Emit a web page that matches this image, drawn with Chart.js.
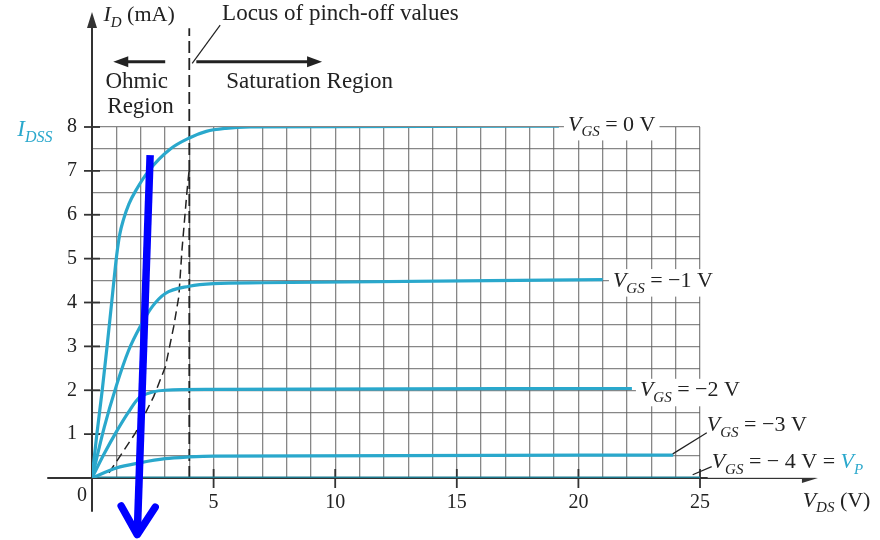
<!DOCTYPE html>
<html>
<head>
<meta charset="utf-8">
<script src="https://cdn.jsdelivr.net/npm/chart.js@4.4.1/dist/chart.umd.min.js"></script>
<style>
  html, body { margin: 0; padding: 0; background: #fff; }
</style>
</head>
<body>
<canvas id="chart" width="880" height="540"></canvas>
<script>
// drain characteristics (VDS in V, ID in mA)
const vgs0Vds = [0, 0.2, 0.42, 0.62, 0.8, 0.92, 1.02, 1.14, 1.3, 1.52, 1.8, 2.33, 3.22, 4.0, 4.7, 5.5, 6.5, 19.2];
const vgs0Id  = [0, 1.0, 2.0, 3.0, 3.95, 4.6, 5.1, 5.55, 5.9, 6.25, 6.55, 7.0, 7.5, 7.75, 7.9, 7.97, 8.0, 8.02];

const vgs1Vds = [0, 0.5, 1.0, 1.5, 2.0, 2.47, 3.0, 4.0, 5.0, 7.0, 21.0];
const vgs1Id  = [0, 1.15, 2.1, 2.9, 3.47, 3.9, 4.2, 4.37, 4.43, 4.45, 4.52];

const vgs2Vds = [0, 0.5, 1.0, 1.5, 1.92, 2.5, 3.0, 5.0, 22.2];
const vgs2Id  = [0, 0.55, 1.05, 1.5, 1.82, 1.96, 2.0, 2.02, 2.04];

const vgs3Vds = [0, 1, 2, 3, 4, 5, 23.9];
const vgs3Id  = [0, 0.23, 0.35, 0.44, 0.48, 0.5, 0.52];

const vgs4Vds = [0, 25];
const vgs4Id  = [0, 0];

// locus of pinch-off values (dashed)
const locusVds = [0.7, 1.78, 2.54, 3.02, 3.36, 3.57, 3.7, 3.9, 4.0];
const locusId  = [0.12, 1.02, 1.86, 2.54, 3.45, 4.14, 5.2, 6.5, 7.05];

// boundary between ohmic and saturation region
const boundVds = [4, 4];
const boundId  = [0, 10.25];

const xTickVals = [5, 10, 15, 20, 25];
const yTickVals = [1, 2, 3, 4, 5, 6, 7, 8];

// the blue hand drawn arrow, in (VDS, ID)
const blueArrowFrom = [2.39, 7.36];
const blueArrowTo   = [1.86, -1.29];

const SERIF = '"Liberation Serif", "DejaVu Serif", serif';
const CYAN = '#2aa8cc';
const INK = '#222';

function pts(xs, ys) {
  return xs.map((v, i) => ({ x: v, y: ys[i] }));
}

function curve(xs, ys, color) {
  return {
    data: pts(xs, ys),
    borderColor: color || CYAN,
    borderWidth: 3.2,
    pointRadius: 0,
    cubicInterpolationMode: 'monotone',
    fill: false
  };
}

// rich text: parts like {t, it, sub, col}
function richWidth(ctx, parts, size) {
  let w = 0;
  parts.forEach(p => {
    const s = p.sub ? Math.round(size * 0.7) : size;
    ctx.font = (p.it ? 'italic ' : '') + s + 'px ' + SERIF;
    w += ctx.measureText(p.t).width;
  });
  return w;
}

function drawRich(ctx, x, y, parts, size, boxed) {
  const w = richWidth(ctx, parts, size);
  if (boxed) {
    ctx.fillStyle = '#fff';
    ctx.fillRect(x - 4, y - size * 0.8, w + 8, size * 1.25);
  }
  let cx = x;
  ctx.textBaseline = 'alphabetic';
  ctx.textAlign = 'left';
  parts.forEach(p => {
    const s = p.sub ? Math.round(size * 0.7) : size;
    ctx.font = (p.it ? 'italic ' : '') + s + 'px ' + SERIF;
    ctx.fillStyle = p.col || INK;
    ctx.fillText(p.t, cx, y + (p.sub ? size * 0.27 : 0));
    cx += ctx.measureText(p.t).width;
  });
}

function line(ctx, x1, y1, x2, y2) {
  ctx.beginPath();
  ctx.moveTo(x1, y1);
  ctx.lineTo(x2, y2);
  ctx.stroke();
}

function arrowHead(ctx, x, y, dir, len, half) {
  ctx.beginPath();
  ctx.moveTo(x, y);
  ctx.lineTo(x - dir[0] * len - dir[1] * half, y - dir[1] * len + dir[0] * half);
  ctx.lineTo(x - dir[0] * len + dir[1] * half, y - dir[1] * len - dir[0] * half);
  ctx.closePath();
  ctx.fill();
}

const axesPlugin = {
  id: 'axes',
  beforeDatasetsDraw(chart) {
    const ctx = chart.ctx;
    const xs = chart.scales.x, ys = chart.scales.y;
    const ox = xs.getPixelForValue(0), oy = ys.getPixelForValue(0);
    ctx.save();
    ctx.strokeStyle = '#333';
    ctx.fillStyle = '#333';
    ctx.lineWidth = 2;
    // vertical axis with arrow
    const yTop = ys.getPixelForValue(10.62);
    line(ctx, ox, ys.getPixelForValue(-0.77), ox, yTop + 10);
    arrowHead(ctx, ox, yTop, [0, -1], 16, 5);
    // horizontal axis with arrow
    const xEnd = xs.getPixelForValue(29.85);
    line(ctx, xs.getPixelForValue(-1.84), oy, xEnd - 10, oy);
    arrowHead(ctx, xEnd, oy, [1, 0], 16, 5);
    // tick marks
    ctx.lineWidth = 1.8;
    yTickVals.forEach(v => {
      const y = ys.getPixelForValue(v);
      line(ctx, ox - 8, y, ox + 8, y);
    });
    xTickVals.forEach(v => {
      const x = xs.getPixelForValue(v);
      line(ctx, x, oy - 9, x, oy + 10);
    });
    ctx.restore();
  },
  afterDraw(chart) {
    const ctx = chart.ctx;
    const xs = chart.scales.x, ys = chart.scales.y;
    const px = v => xs.getPixelForValue(v);
    const py = v => ys.getPixelForValue(v);
    const ox = px(0), oy = py(0);
    ctx.save();

    // tick labels
    ctx.font = '20px ' + SERIF;
    ctx.fillStyle = INK;
    ctx.textBaseline = 'middle';
    ctx.textAlign = 'right';
    yTickVals.forEach(v => ctx.fillText(String(v), ox - 15, py(v)));
    ctx.textAlign = 'center';
    xTickVals.forEach(v => ctx.fillText(String(v), px(v), oy + 25));
    ctx.fillText('0', ox - 10, oy + 18);

    // axis titles
    drawRich(ctx, px(0.47), py(10.41), [{ t: 'I', it: 1 }, { t: 'D', it: 1, sub: 1 }, { t: ' (mA)' }], 22);
    drawRich(ctx, px(29.22), py(-0.65), [{ t: 'V', it: 1 }, { t: 'DS', it: 1, sub: 1 }, { t: ' (V)' }], 22);
    drawRich(ctx, px(-3.07), py(7.79), [{ t: 'I', it: 1, col: CYAN }, { t: 'DSS', it: 1, sub: 1, col: CYAN }], 23);

    // region annotations
    drawRich(ctx, px(5.35), py(10.43), [{ t: 'Locus of pinch-off values' }], 23);
    drawRich(ctx, px(0.55), py(8.9), [{ t: 'Ohmic' }], 23);
    drawRich(ctx, px(0.63), py(8.33), [{ t: 'Region' }], 23);
    drawRich(ctx, px(5.52), py(8.9), [{ t: 'Saturation Region' }], 23);

    ctx.strokeStyle = INK;
    ctx.fillStyle = INK;
    ctx.lineWidth = 1.2;
    line(ctx, px(4.12), py(9.45), px(5.27), py(10.32));
    ctx.lineWidth = 3;
    line(ctx, px(3.01), py(9.49), px(0.875) + 12, py(9.49));
    arrowHead(ctx, px(0.875), py(9.49), [-1, 0], 15, 5.5);
    line(ctx, px(4.29), py(9.49), px(9.46) - 12, py(9.49));
    arrowHead(ctx, px(9.46), py(9.49), [1, 0], 15, 5.5);

    // curve labels
    const vgs = s => [{ t: 'V', it: 1 }, { t: 'GS', it: 1, sub: 1 }, { t: s }];
    drawRich(ctx, px(19.57), py(7.92), vgs(' = 0 V'), 22, true);
    drawRich(ctx, px(21.42), py(4.36), vgs(' = \u22121 V'), 22, true);
    drawRich(ctx, px(22.53), py(1.86), vgs(' = \u22122 V'), 22, true);
    drawRich(ctx, px(25.28), py(1.06), vgs(' = \u22123 V'), 22, true);
    drawRich(ctx, px(25.48), py(0.23),
      vgs(' = \u2212 4 V = ').concat([{ t: 'V', it: 1, col: CYAN }, { t: 'P', it: 1, sub: 1, col: CYAN }]), 22, true);
    ctx.strokeStyle = INK;
    ctx.lineWidth = 1.2;
    line(ctx, px(23.88), py(0.55), px(25.28), py(1.03));
    line(ctx, px(24.7), py(0.075), px(25.48), py(0.26));

    // blue arrow
    const x1 = px(blueArrowFrom[0]), y1 = py(blueArrowFrom[1]);
    const x2 = px(blueArrowTo[0]), y2 = py(blueArrowTo[1]);
    const len = Math.hypot(x2 - x1, y2 - y1);
    const d = [(x2 - x1) / len, (y2 - y1) / len];
    ctx.strokeStyle = '#0000ff';
    ctx.lineWidth = 7.5;
    ctx.lineCap = 'butt';
    line(ctx, x1, y1, x2 - d[0] * 4, y2 - d[1] * 4);
    ctx.lineCap = 'round';
    ctx.lineJoin = 'round';
    ctx.beginPath();
    ctx.moveTo(x2 - d[0] * 28 - d[1] * 17, y2 - d[1] * 28 + d[0] * 17);
    ctx.lineTo(x2, y2);
    ctx.lineTo(x2 - d[0] * 28 + d[1] * 17, y2 - d[1] * 28 - d[0] * 17);
    ctx.stroke();

    ctx.restore();
  }
};

const dashed = (xs, ys, w, dash) => ({
  data: pts(xs, ys),
  borderColor: '#222',
  borderWidth: w,
  borderDash: dash,
  pointRadius: 0,
  fill: false,
  clip: false
});

new Chart(document.getElementById('chart'), {
  type: 'line',
  data: {
    datasets: [
      curve(vgs0Vds, vgs0Id),
      curve(vgs1Vds, vgs1Id),
      curve(vgs2Vds, vgs2Id),
      curve(vgs3Vds, vgs3Id),
      curve(vgs4Vds, vgs4Id, '#1f7d92'),
      dashed(locusVds, locusId, 1.5, [9, 5]),
      dashed(boundVds, boundId, 1.8, [12, 5])
    ]
  },
  options: {
    responsive: false,
    animation: false,
    layout: { padding: { left: 92, right: 180, top: 127, bottom: 62 } },
    plugins: {
      legend: { display: false },
      tooltip: { enabled: false }
    },
    scales: {
      x: {
        type: 'linear', min: 0, max: 25,
        ticks: { display: false, stepSize: 1 },
        grid: { color: 'rgba(95,95,95,0.75)', lineWidth: 1.3, drawTicks: false },
        border: { display: false }
      },
      y: {
        type: 'linear', min: 0, max: 8,
        ticks: { display: false, stepSize: 0.5 },
        grid: { color: 'rgba(95,95,95,0.75)', lineWidth: 1.3, drawTicks: false },
        border: { display: false }
      }
    }
  },
  plugins: [axesPlugin]
});
</script>
</body>
</html>
